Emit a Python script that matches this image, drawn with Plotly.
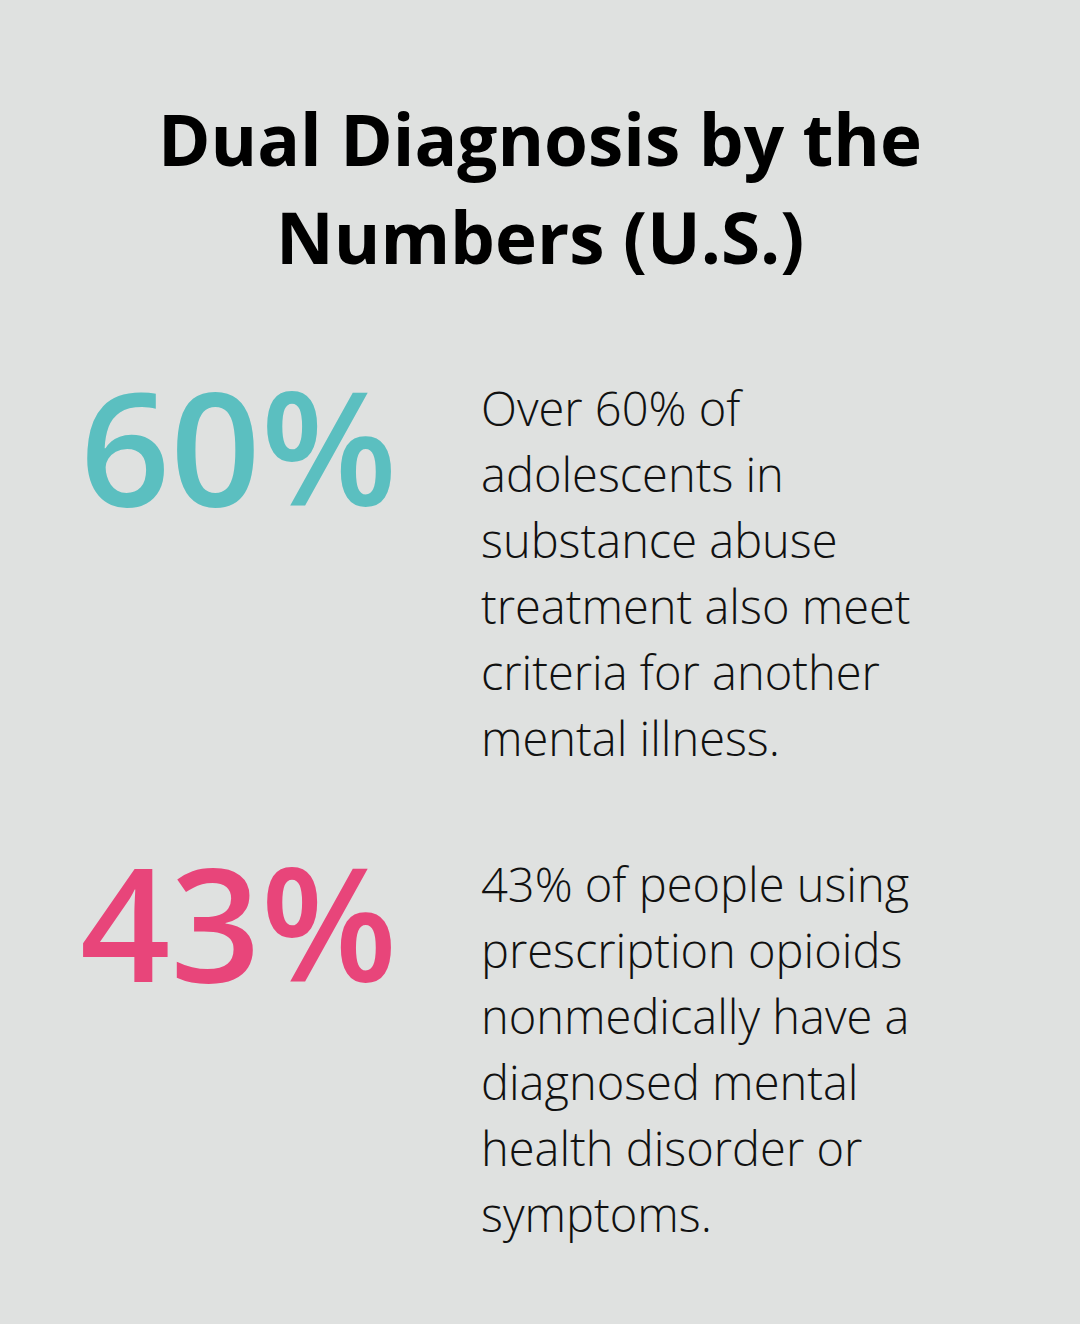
import plotly.graph_objects as go

title_lines = ["Dual Diagnosis by the", "Numbers (U.S.)"]
stats = ["60%", "43%"]
stat_colors = ["#5bbfc0", "#e8457a"]
descriptions = [
    ["Over 60% of", "adolescents in", "substance abuse", "treatment also meet", "criteria for another", "mental illness."],
    ["43% of people using", "prescription opioids", "nonmedically have a", "diagnosed mental", "health disorder or", "symptoms."],
]

W, H = 1080, 1324
fig = go.Figure()
fig.add_trace(go.Scatter(x=[0], y=[0], mode="markers", marker=dict(opacity=0), hoverinfo="skip", showlegend=False))

ann = []
for i, t in enumerate(title_lines):
    ann.append(dict(x=540, y=138 + i * 98, text=t, xanchor="center", yanchor="middle", showarrow=False,
                    font=dict(family="Open Sans", size=71, color="#000000", weight=700)))

block_top = [408, 884]
for k in range(2):
    ann.append(dict(x=78, y=block_top[k] + 36, text=stats[k], xanchor="left", yanchor="middle", showarrow=False,
                    font=dict(family="Open Sans", size=158, color=stat_colors[k], weight=600)))
    for j, line in enumerate(descriptions[k]):
        ann.append(dict(x=479, y=block_top[k] + j * 66, text=line, xanchor="left", yanchor="middle", showarrow=False,
                        font=dict(family="Open Sans", size=47, color="#111111", weight=300)))

fig.update_layout(
    width=W, height=H, margin=dict(l=0, r=0, t=0, b=0),
    paper_bgcolor="#dfe1e0", plot_bgcolor="#dfe1e0",
    xaxis=dict(range=[0, W], visible=False, fixedrange=True),
    yaxis=dict(range=[H, 0], visible=False, fixedrange=True),
    annotations=ann,
)
fig.write_html("out.html", config={"displayModeBar": False},
               post_script="document.body.style.margin='0';document.body.style.background='#dfe1e0';")
